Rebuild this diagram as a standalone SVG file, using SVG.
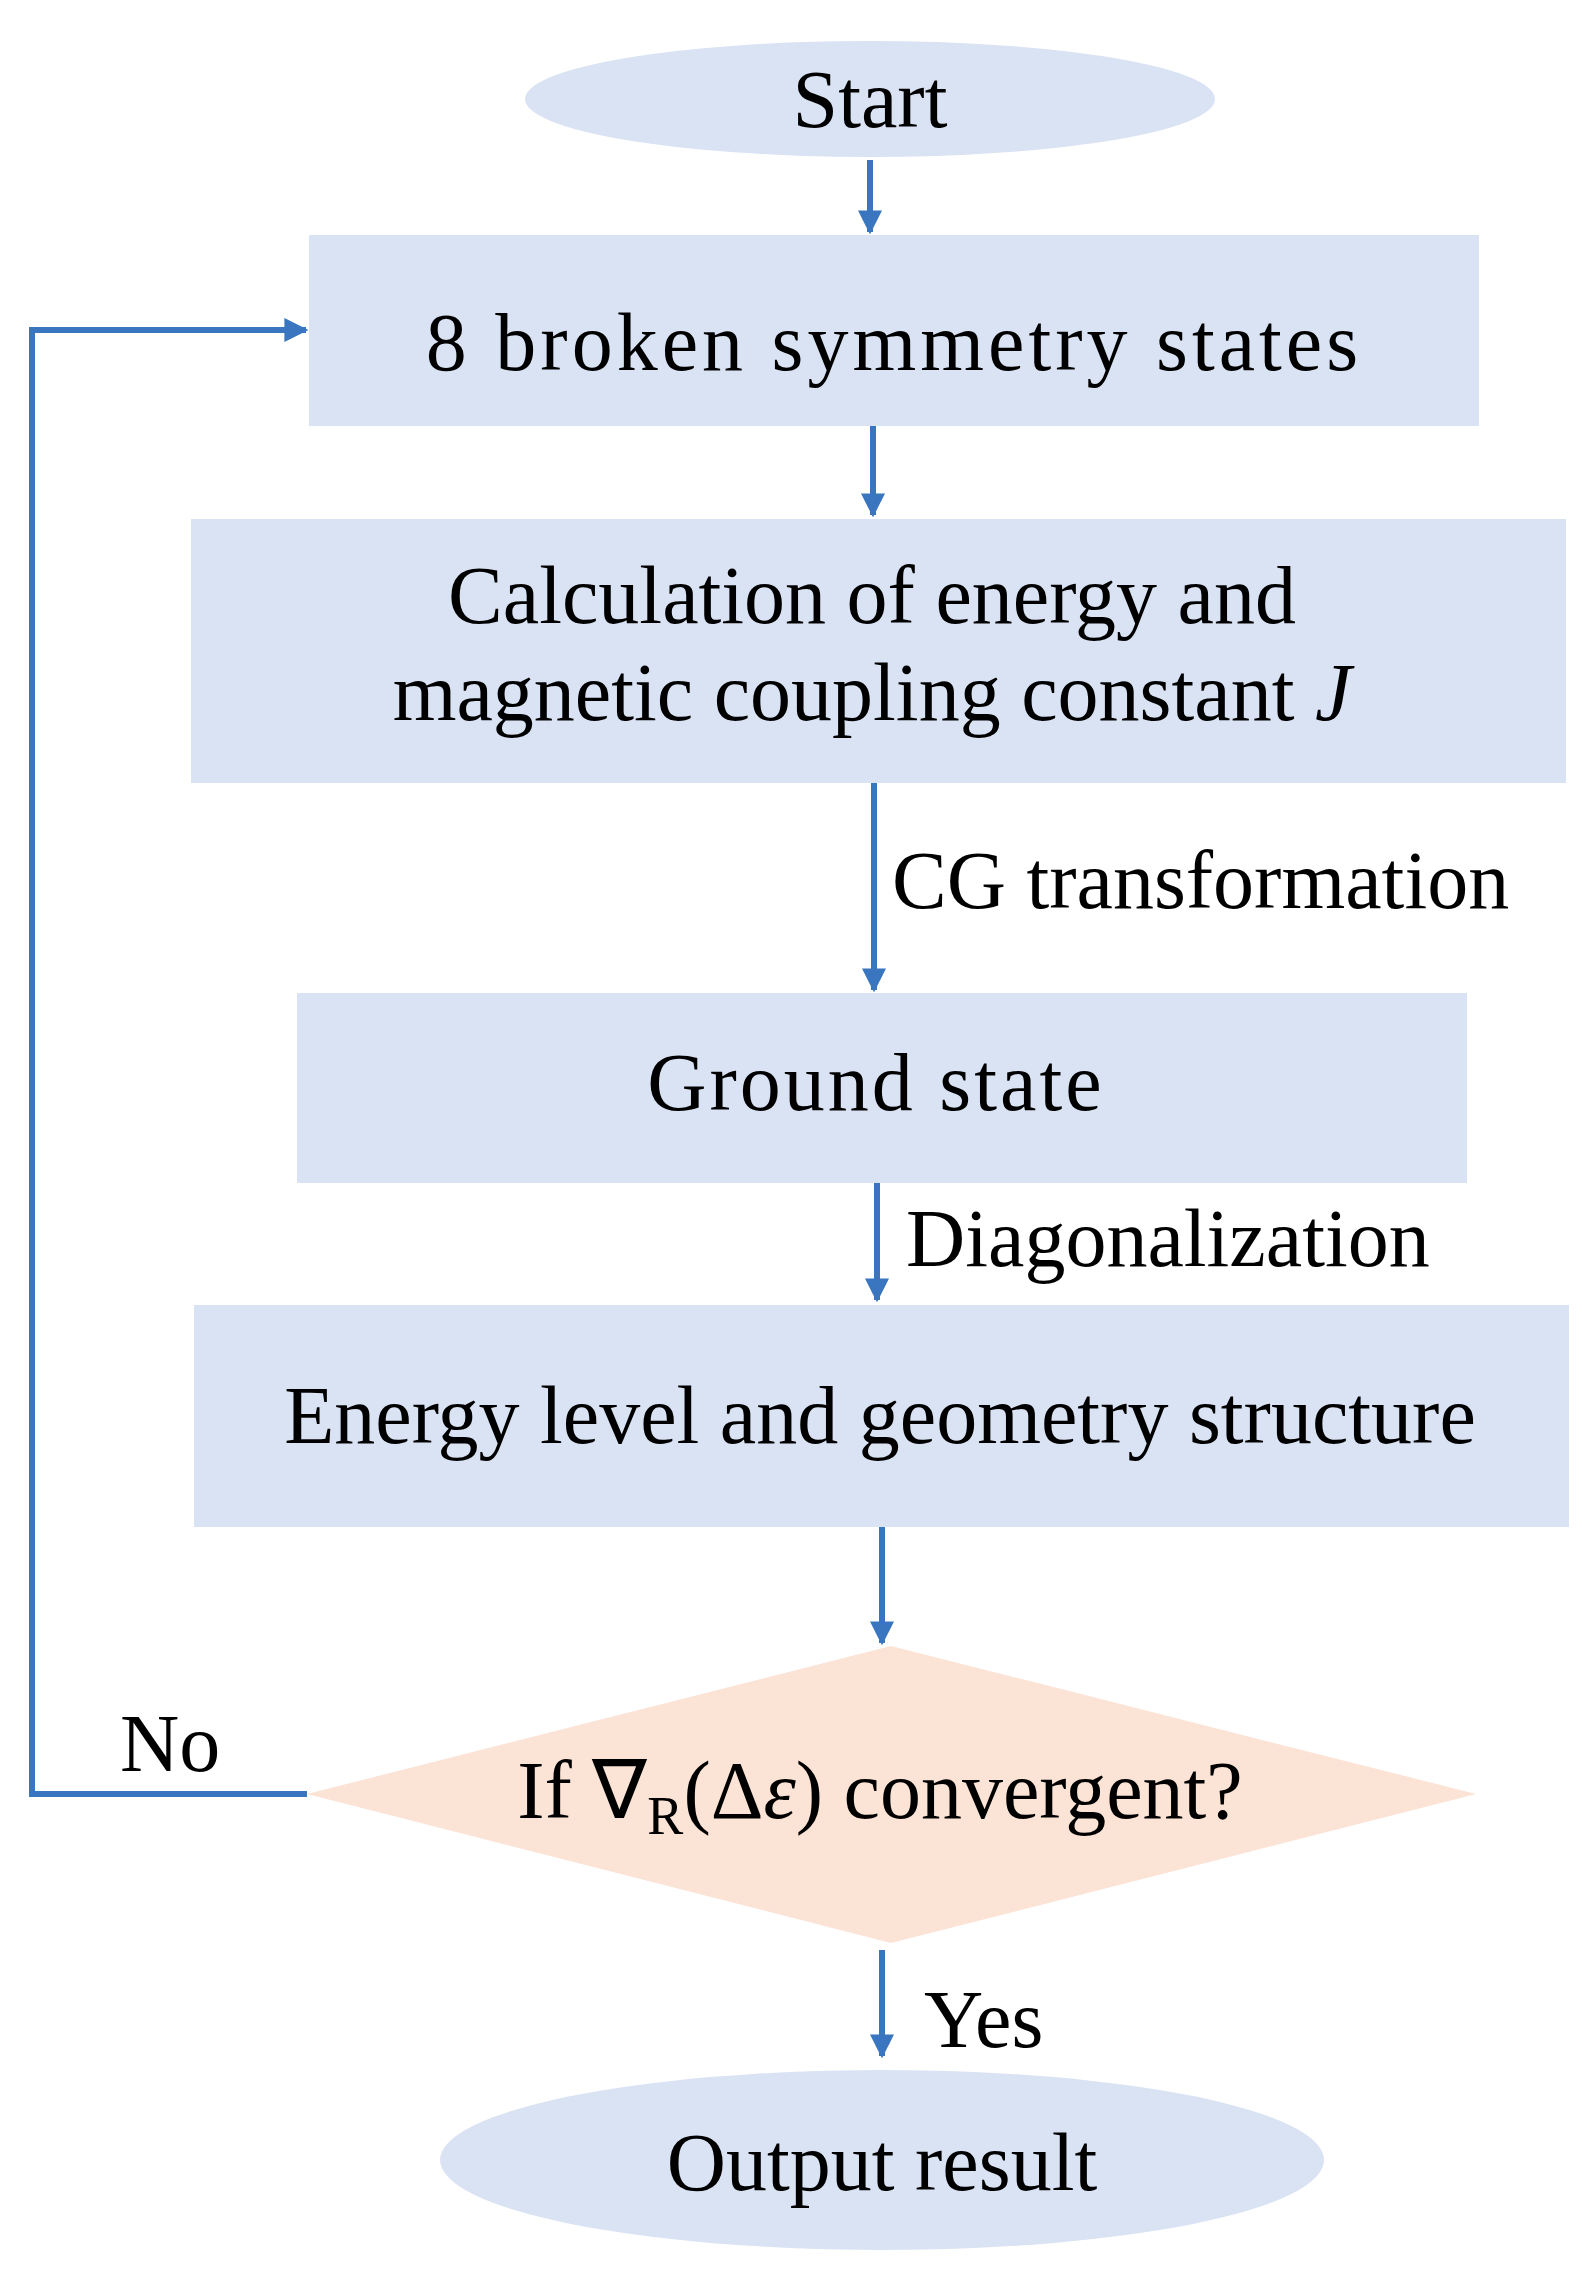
<svg xmlns="http://www.w3.org/2000/svg" width="1595" height="2284" viewBox="0 0 1595 2284">
<style>
.n{fill:#dae3f3}
.d{fill:#fbe3d6}
text{font-family:"Liberation Serif",serif;font-size:82px;fill:#000}
.c{text-anchor:middle}
.e{fill:none;stroke:#3a76c0;stroke-width:6}
</style>
<defs><marker id="a" viewBox="0 0 10 10" refX="9" refY="5" markerWidth="4" markerHeight="4" orient="auto"><path d="M0,0L10,5L0,10z" fill="#3a76c0"/></marker></defs>
<rect width="1595" height="2284" fill="#fff"/>
<g id="start"><ellipse cx="870" cy="99" rx="345" ry="58" class="n"/><text x="870" y="127" class="c">Start</text></g>
<g id="bs"><rect x="309" y="235" width="1170" height="191" class="n"/><text x="894" y="370" class="c" letter-spacing="4">8 broken symmetry states</text></g>
<g id="calc"><rect x="191" y="519" width="1375" height="264" class="n"/><text x="872" y="623" class="c">Calculation of energy and</text><text x="872" y="720" class="c">magnetic coupling constant <tspan font-style="italic">J</tspan></text></g>
<g id="gs"><rect x="297" y="993" width="1170" height="190" class="n"/><text x="876" y="1110" class="c" letter-spacing="3">Ground state</text></g>
<g id="el"><rect x="194" y="1305" width="1375" height="222" class="n"/><text x="880" y="1443" class="c">Energy level and geometry structure</text></g>
<g id="dec"><polygon points="307,1794 891,1646 1476,1794 891,1943" class="d"/><text x="880" y="1818" class="c">If ∇<tspan font-size="54" dy="16">R</tspan><tspan dy="-16">(Δ</tspan><tspan font-style="italic">ε</tspan>) convergent?</text></g>
<g id="out"><ellipse cx="882" cy="2160" rx="442" ry="90" class="n"/><text x="882" y="2190" class="c">Output result</text></g>
<g id="connectors">
<line x1="870" y1="160" x2="870" y2="232" class="e" marker-end="url(#a)"/>
<line x1="873" y1="426" x2="873" y2="515" class="e" marker-end="url(#a)"/>
<line x1="874" y1="783" x2="874" y2="990" class="e" marker-end="url(#a)"/>
<line x1="877" y1="1183" x2="877" y2="1300" class="e" marker-end="url(#a)"/>
<line x1="882" y1="1527" x2="882" y2="1643" class="e" marker-end="url(#a)"/>
<line x1="882" y1="1950" x2="882" y2="2056" class="e" marker-end="url(#a)"/>
<polyline points="307,1794 32,1794 32,330 306,330" class="e" marker-end="url(#a)"/>
<text x="892" y="908">CG transformation</text>
<text x="906" y="1266">Diagonalization</text>
<text x="120" y="1771">No</text>
<text x="924" y="2047">Yes</text>
</g>
</svg>
